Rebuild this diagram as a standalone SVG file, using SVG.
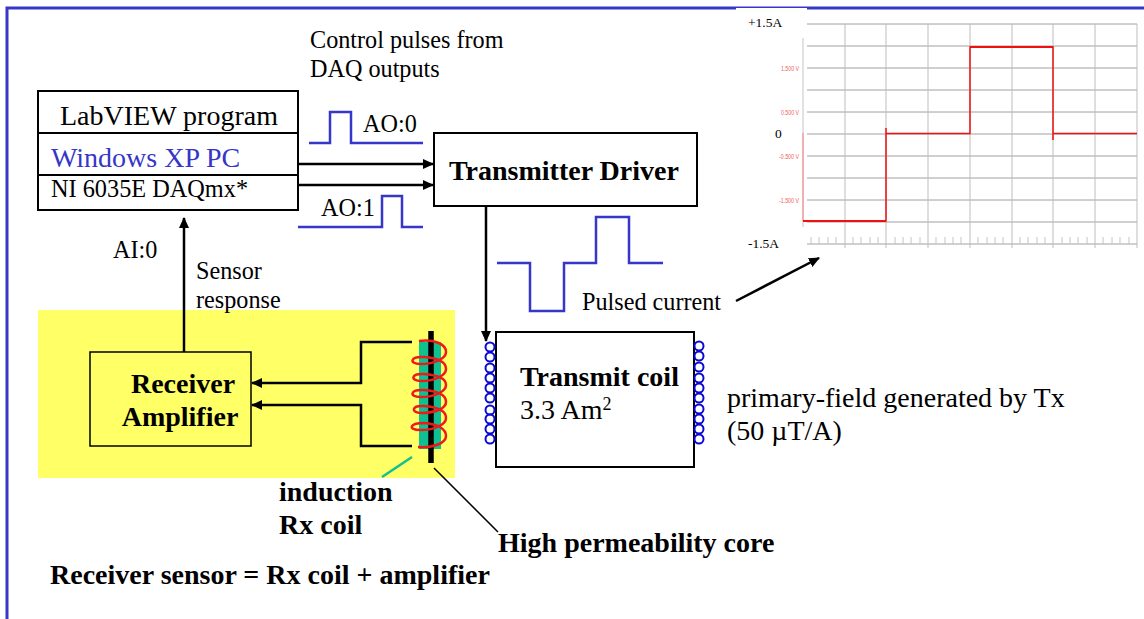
<svg xmlns="http://www.w3.org/2000/svg" width="1144" height="619" viewBox="0 0 1144 619">
<style>
text{font-family:"Liberation Serif","Times New Roman",serif;fill:#000}
.b{font-weight:bold}
.box{fill:#fff;stroke:#000;stroke-width:2}
.ln{fill:none;stroke:#000;stroke-width:2}
.conn{fill:none;stroke:#000;stroke-width:2.5}
.pulse{fill:none;stroke:#3636c8;stroke-width:2.5}
.gh{stroke:#a0a0a0;stroke-width:1}
.gv{stroke:#bdbdbd;stroke-width:1}
.tick{stroke:#c4c4c4;stroke-width:1}
.rl{font-family:"Liberation Sans",Arial,sans-serif;font-size:8px;fill:#f06060}
.cl{font-size:13.500px}
.s{font-size:24.200px}
.m{font-size:28px}
.loop{fill:none;stroke:#0a0ad0;stroke-width:2}
</style>
<defs>
<marker id="ah" markerUnits="userSpaceOnUse" markerWidth="12" markerHeight="12" refX="10" refY="5" orient="auto"><path d="M0 0L11 5L0 10z" fill="#000"/></marker>
</defs>
<g id="frame">
<path d="M7 619V8H1144" fill="none" stroke="#3636c8" stroke-width="3"/>
<rect x="736" y="8" width="71" height="4" fill="#fff"/>
</g>
<g id="yellow-panel"><rect x="38" y="310" width="417" height="168" fill="#ffff66"/></g>
<g id="chart">
<path class="gh" d="M807 24H1137M807 46H1137M807 68H1137M807 90H1137M807 112H1137M807 134H1137M807 156H1137M807 178H1137M807 200H1137M807 222H1137M807 244H1137"/>
<path class="gv" d="M845 24V248M886 24V248M928 24V248M970 24V248M1012 24V248M1053 24V248M1095 24V248M1137 24V248"/>
<path class="tick" d="M803 38V227"/>
<path class="tick" d="M811 237V244M819 237V244M828 237V244M836 237V244M853 237V244M861 237V244M870 237V244M878 237V244M895 237V244M903 237V244M911 237V244M920 237V244M936 237V244M945 237V244M953 237V244M961 237V244M978 237V244M987 237V244M995 237V244M1003 237V244M1020 237V244M1028 237V244M1037 237V244M1045 237V244M1062 237V244M1070 237V244M1078 237V244M1087 237V244M1103 237V244M1112 237V244M1120 237V244M1129 237V244"/>
<path d="M803 133V221" fill="none" stroke="#ff8080" stroke-width="1"/>
<path d="M803 221H886V128M886 133.500H970V47H1053V140M1053 133.500H1137" fill="none" stroke="#f01010" stroke-width="1.500"/>
<path d="M803 221H886M970 47H1053" fill="none" stroke="#f01010" stroke-width="2"/>
<text class="rl" x="781" y="71" textLength="18" lengthAdjust="spacingAndGlyphs">1.500 V</text>
<text class="rl" x="781" y="115" textLength="18" lengthAdjust="spacingAndGlyphs">0.500 V</text>
<text class="rl" x="779" y="159" textLength="20" lengthAdjust="spacingAndGlyphs">-0.500 V</text>
<text class="rl" x="779" y="203" textLength="20" lengthAdjust="spacingAndGlyphs">-1.500 V</text>
<text class="cl" x="748" y="27">+1.5A</text>
<text class="cl" x="775" y="138">0</text>
<text class="cl" x="748" y="248">-1.5A</text>
</g>
<g id="labview">
<rect class="box" x="38" y="91" width="260" height="119"/>
<path class="ln" d="M38 133H298M38 175H298"/>
<text class="m" x="60" y="125">LabVIEW program</text>
<text class="m" x="51" y="167" style="fill:#3636c8">Windows XP PC</text>
<text x="51" y="197" font-size="24.300">NI 6035E DAQmx*</text>
</g>
<g id="transmitter-driver">
<rect class="box" x="434" y="133" width="263" height="73"/>
<text class="b m" x="449" y="180">Transmitter Driver</text>
</g>
<g id="receiver-amplifier">
<rect x="90" y="352" width="161" height="94" fill="none" stroke="#000" stroke-width="1.500"/>
<text class="b m" x="183" y="393" text-anchor="middle">Receiver</text>
<text class="b m" x="180" y="426" text-anchor="middle">Amplifier</text>
</g>
<g id="transmit-coil">
<rect class="box" x="496" y="332" width="198" height="135"/>
<text class="b m" x="520" y="386">Transmit coil</text>
<text class="m" x="520" y="419">3.3 Am<tspan font-size="18" dy="-9">2</tspan></text>
<g class="loop">
<circle cx="490" cy="347" r="4.500"/><circle cx="490" cy="357" r="4.500"/><circle cx="490" cy="368" r="4.500"/><circle cx="490" cy="378" r="4.500"/><circle cx="490" cy="388" r="4.500"/><circle cx="490" cy="398" r="4.500"/><circle cx="490" cy="410" r="4.500"/><circle cx="490" cy="419" r="4.500"/><circle cx="490" cy="429" r="4.500"/><circle cx="490" cy="439" r="4.500"/>
<circle cx="699" cy="346" r="4.500"/><circle cx="699" cy="356" r="4.500"/><circle cx="699" cy="367" r="4.500"/><circle cx="699" cy="378" r="4.500"/><circle cx="699" cy="388" r="4.500"/><circle cx="699" cy="398" r="4.500"/><circle cx="699" cy="409" r="4.500"/><circle cx="699" cy="419" r="4.500"/><circle cx="699" cy="429" r="4.500"/><circle cx="699" cy="439" r="4.500"/>
</g>
</g>
<g id="rx-coil">
<rect x="419" y="342" width="22" height="107" fill="#10c090"/>
<path d="M431 331V463" stroke="#000" stroke-width="5.500" fill="none"/>
<path d="M419 341C434 339 446 344 446 352C446 358 436 364 420 364C409 364 410 356 424 357C438 358 446 362 446 369C446 375 436 381 421 381C410 381 411 373 424 374C438 375 446 379 446 385C446 391 436 397 420 397C409 397 410 389 424 390C438 391 446 395 446 402C446 408 436 413 421 413C411 413 411 405 424 406C438 407 446 411 446 418C446 424 436 430 420 430C408 430 409 423 424 423C438 424 446 429 446 436C446 443 434 448 418 447" fill="none" stroke="#f01818" stroke-width="2.500"/>
</g>
<g id="connectors">
<path class="conn" d="M298 164H433" marker-end="url(#ah)"/>
<path class="conn" d="M298 185H433" marker-end="url(#ah)"/>
<path class="conn" d="M184 352V218" marker-end="url(#ah)"/>
<path class="conn" d="M486 206V341" marker-end="url(#ah)"/>
<path class="conn" d="M412 342H361V383H252" marker-end="url(#ah)"/>
<path class="conn" d="M412 446H361V405H252" marker-end="url(#ah)"/>
<path class="conn" d="M736 301L819 258" marker-end="url(#ah)"/>
<path d="M382 477L412 457" stroke="#10c090" stroke-width="2.500" fill="none"/>
<path d="M434 468L498 532" stroke="#000" stroke-width="1.500" fill="none"/>
</g>
<g id="pulses">
<path class="pulse" d="M309 143H330V112H351V143H423"/>
<path class="pulse" d="M298 227H382V196H402V227H423"/>
<path class="pulse" d="M497 263H530V311H564V263H596V217H629V263H663"/>
</g>
<g id="labels">
<text class="s" x="310" y="48">Control pulses from</text>
<text class="s" x="310" y="77">DAQ outputs</text>
<text class="s" x="363" y="132">AO:0</text>
<text class="s" x="321" y="216">AO:1</text>
<text class="s" x="113" y="258">AI:0</text>
<text class="s" x="196" y="279">Sensor</text>
<text class="s" x="196" y="308">response</text>
<text class="s" x="582" y="310">Pulsed current</text>
<text class="m" x="727" y="407">primary-field generated by Tx</text>
<text class="m" x="727" y="440">(50 µT/A)</text>
<text class="b m" x="279" y="501">induction</text>
<text class="b m" x="279" y="534">Rx coil</text>
<text class="b m" x="498" y="552">High permeability core</text>
<text class="b m" x="50" y="584">Receiver sensor = Rx coil + amplifier</text>
</g>
</svg>
